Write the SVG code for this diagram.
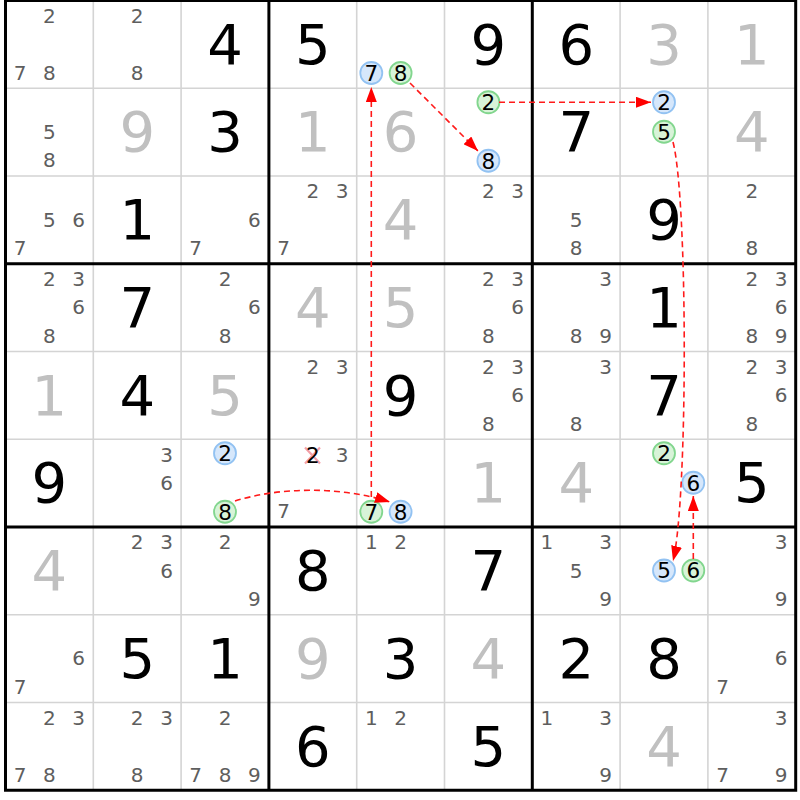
<svg xmlns="http://www.w3.org/2000/svg" width="800" height="800" viewBox="0 0 800 800">
<style>
text{font-family:"DejaVu Sans","Liberation Sans",sans-serif;text-anchor:middle}
.g{font-size:56px;fill:#000}
.s{font-size:56px;fill:#c0c0c0}
.c{font-size:20px;fill:#5e5e5e}
.k{font-size:21.5px;fill:#000}
.cb{fill:#d6e7fb;stroke:#92c2f2;stroke-width:1.8}
.cg{fill:#d8f3d8;stroke:#82d68e;stroke-width:1.8}
.thin{stroke:#d4d4d4;stroke-width:1.6;fill:none}
.thick{stroke:#000;stroke-width:3;fill:none}
.arr{stroke:#ff1a1a;stroke-width:1.6;stroke-dasharray:6,4;fill:none;marker-end:url(#ah)}
.x{stroke:#f4a0a8;stroke-width:2.2}
</style>
<defs>
<marker id="ah" markerUnits="userSpaceOnUse" markerWidth="15" markerHeight="11" viewBox="0 0 15 11" refX="15" refY="5.5" orient="auto">
<path d="M0,0 L15,5.5 L0,11 z" fill="#ff0000"/>
</marker>
</defs>
<rect width="800" height="800" fill="#fff"/>
<g id="grid">
<path class="thin" d="M93.3,0.5V790.25M181.1,0.5V790.25M356.7,0.5V790.25M444.5,0.5V790.25M620.1,0.5V790.25M707.9,0.5V790.25M5.5,88.25H795.7M5.5,176H795.7M5.5,351.5H795.7M5.5,439.25H795.7M5.5,614.75H795.7M5.5,702.5H795.7"/>
<path class="thick" d="M268.9,0.5V790.25M532.3,0.5V790.25M5.5,263.75H795.7M5.5,527H795.7"/>
<rect class="thick" x="5.5" y="0.5" width="790.2" height="789.75"/>
</g>
<g id="r0c0"><text class="c" x="49.4" y="22.8">2</text><text class="c" x="20.1" y="79.5">7</text><text class="c" x="49.4" y="79.5">8</text></g>
<g id="r0c1"><text class="c" x="137.2" y="22.8">2</text><text class="c" x="137.2" y="79.5">8</text></g>
<g id="r0c2"><text class="g" x="225" y="63.5">4</text></g>
<g id="r0c3"><text class="g" x="312.8" y="63.5">5</text></g>
<g id="r0c4"><circle class="cb" cx="371.3" cy="73" r="11"/><text class="k" x="371.3" y="80.8">7</text><circle class="cg" cx="400.6" cy="73" r="11"/><text class="k" x="400.6" y="80.8">8</text></g>
<g id="r0c5"><text class="g" x="488.4" y="63.5">9</text></g>
<g id="r0c6"><text class="g" x="576.2" y="63.5">6</text></g>
<g id="r0c7"><text class="s" x="664" y="63.5">3</text></g>
<g id="r0c8"><text class="s" x="751.8" y="63.5">1</text></g>
<g id="r1c0"><text class="c" x="49.4" y="138.95">5</text><text class="c" x="49.4" y="167.25">8</text></g>
<g id="r1c1"><text class="s" x="137.2" y="151.25">9</text></g>
<g id="r1c2"><text class="g" x="225" y="151.25">3</text></g>
<g id="r1c3"><text class="s" x="312.8" y="151.25">1</text></g>
<g id="r1c4"><text class="s" x="400.6" y="151.25">6</text></g>
<g id="r1c5"><circle class="cg" cx="488.4" cy="102.25" r="11"/><text class="k" x="488.4" y="110.05">2</text><circle class="cb" cx="488.4" cy="160.75" r="11"/><text class="k" x="488.4" y="168.55">8</text></g>
<g id="r1c6"><text class="g" x="576.2" y="151.25">7</text></g>
<g id="r1c7"><circle class="cb" cx="664" cy="102.25" r="11"/><text class="k" x="664" y="110.05">2</text><circle class="cg" cx="664" cy="131.75" r="11"/><text class="k" x="664" y="139.55">5</text></g>
<g id="r1c8"><text class="s" x="751.8" y="151.25">4</text></g>
<g id="r2c0"><text class="c" x="49.4" y="226.7">5</text><text class="c" x="78.7" y="226.7">6</text><text class="c" x="20.1" y="255">7</text></g>
<g id="r2c1"><text class="g" x="137.2" y="239">1</text></g>
<g id="r2c2"><text class="c" x="254.3" y="226.7">6</text><text class="c" x="195.7" y="255">7</text></g>
<g id="r2c3"><text class="c" x="312.8" y="198.3">2</text><text class="c" x="342.1" y="198.3">3</text><text class="c" x="283.5" y="255">7</text></g>
<g id="r2c4"><text class="s" x="400.6" y="239">4</text></g>
<g id="r2c5"><text class="c" x="488.4" y="198.3">2</text><text class="c" x="517.7" y="198.3">3</text></g>
<g id="r2c6"><text class="c" x="576.2" y="226.7">5</text><text class="c" x="576.2" y="255">8</text></g>
<g id="r2c7"><text class="g" x="664" y="239">9</text></g>
<g id="r2c8"><text class="c" x="751.8" y="198.3">2</text><text class="c" x="751.8" y="255">8</text></g>
<g id="r3c0"><text class="c" x="49.4" y="286.05">2</text><text class="c" x="78.7" y="286.05">3</text><text class="c" x="78.7" y="314.45">6</text><text class="c" x="49.4" y="342.75">8</text></g>
<g id="r3c1"><text class="g" x="137.2" y="326.75">7</text></g>
<g id="r3c2"><text class="c" x="225" y="286.05">2</text><text class="c" x="254.3" y="314.45">6</text><text class="c" x="225" y="342.75">8</text></g>
<g id="r3c3"><text class="s" x="312.8" y="326.75">4</text></g>
<g id="r3c4"><text class="s" x="400.6" y="326.75">5</text></g>
<g id="r3c5"><text class="c" x="488.4" y="286.05">2</text><text class="c" x="517.7" y="286.05">3</text><text class="c" x="517.7" y="314.45">6</text><text class="c" x="488.4" y="342.75">8</text></g>
<g id="r3c6"><text class="c" x="605.5" y="286.05">3</text><text class="c" x="576.2" y="342.75">8</text><text class="c" x="605.5" y="342.75">9</text></g>
<g id="r3c7"><text class="g" x="664" y="326.75">1</text></g>
<g id="r3c8"><text class="c" x="751.8" y="286.05">2</text><text class="c" x="781.1" y="286.05">3</text><text class="c" x="781.1" y="314.45">6</text><text class="c" x="751.8" y="342.75">8</text><text class="c" x="781.1" y="342.75">9</text></g>
<g id="r4c0"><text class="s" x="49.4" y="414.5">1</text></g>
<g id="r4c1"><text class="g" x="137.2" y="414.5">4</text></g>
<g id="r4c2"><text class="s" x="225" y="414.5">5</text></g>
<g id="r4c3"><text class="c" x="312.8" y="373.8">2</text><text class="c" x="342.1" y="373.8">3</text></g>
<g id="r4c4"><text class="g" x="400.6" y="414.5">9</text></g>
<g id="r4c5"><text class="c" x="488.4" y="373.8">2</text><text class="c" x="517.7" y="373.8">3</text><text class="c" x="517.7" y="402.2">6</text><text class="c" x="488.4" y="430.5">8</text></g>
<g id="r4c6"><text class="c" x="605.5" y="373.8">3</text><text class="c" x="576.2" y="430.5">8</text></g>
<g id="r4c7"><text class="g" x="664" y="414.5">7</text></g>
<g id="r4c8"><text class="c" x="751.8" y="373.8">2</text><text class="c" x="781.1" y="373.8">3</text><text class="c" x="781.1" y="402.2">6</text><text class="c" x="751.8" y="430.5">8</text></g>
<g id="r5c0"><text class="g" x="49.4" y="502.25">9</text></g>
<g id="r5c1"><text class="c" x="166.5" y="461.55">3</text><text class="c" x="166.5" y="489.95">6</text></g>
<g id="r5c2"><circle class="cb" cx="225" cy="453.25" r="11"/><text class="k" x="225" y="461.05">2</text><circle class="cg" cx="225" cy="511.75" r="11"/><text class="k" x="225" y="519.55">8</text></g>
<g id="r5c3"><path class="x" d="M305,447.5L320,463.5M320,447.5L305,463.5"/><text class="k" x="312.8" y="462.5">2</text><text class="c" x="342.1" y="461.55">3</text><text class="c" x="283.5" y="518.25">7</text></g>
<g id="r5c4"><circle class="cg" cx="371.3" cy="511.75" r="11"/><text class="k" x="371.3" y="519.55">7</text><circle class="cb" cx="400.6" cy="511.75" r="11"/><text class="k" x="400.6" y="519.55">8</text></g>
<g id="r5c5"><text class="s" x="488.4" y="502.25">1</text></g>
<g id="r5c6"><text class="s" x="576.2" y="502.25">4</text></g>
<g id="r5c7"><circle class="cg" cx="664" cy="453.25" r="11"/><text class="k" x="664" y="461.05">2</text><circle class="cb" cx="693.3" cy="482.75" r="11"/><text class="k" x="693.3" y="490.55">6</text></g>
<g id="r5c8"><text class="g" x="751.8" y="502.25">5</text></g>
<g id="r6c0"><text class="s" x="49.4" y="590">4</text></g>
<g id="r6c1"><text class="c" x="137.2" y="549.3">2</text><text class="c" x="166.5" y="549.3">3</text><text class="c" x="166.5" y="577.7">6</text></g>
<g id="r6c2"><text class="c" x="225" y="549.3">2</text><text class="c" x="254.3" y="606">9</text></g>
<g id="r6c3"><text class="g" x="312.8" y="590">8</text></g>
<g id="r6c4"><text class="c" x="371.3" y="549.3">1</text><text class="c" x="400.6" y="549.3">2</text></g>
<g id="r6c5"><text class="g" x="488.4" y="590">7</text></g>
<g id="r6c6"><text class="c" x="546.9" y="549.3">1</text><text class="c" x="605.5" y="549.3">3</text><text class="c" x="576.2" y="577.7">5</text><text class="c" x="605.5" y="606">9</text></g>
<g id="r6c7"><circle class="cb" cx="664" cy="570.5" r="11"/><text class="k" x="664" y="578.3">5</text><circle class="cg" cx="693.3" cy="570.5" r="11"/><text class="k" x="693.3" y="578.3">6</text></g>
<g id="r6c8"><text class="c" x="781.1" y="549.3">3</text><text class="c" x="781.1" y="606">9</text></g>
<g id="r7c0"><text class="c" x="78.7" y="665.45">6</text><text class="c" x="20.1" y="693.75">7</text></g>
<g id="r7c1"><text class="g" x="137.2" y="677.75">5</text></g>
<g id="r7c2"><text class="g" x="225" y="677.75">1</text></g>
<g id="r7c3"><text class="s" x="312.8" y="677.75">9</text></g>
<g id="r7c4"><text class="g" x="400.6" y="677.75">3</text></g>
<g id="r7c5"><text class="s" x="488.4" y="677.75">4</text></g>
<g id="r7c6"><text class="g" x="576.2" y="677.75">2</text></g>
<g id="r7c7"><text class="g" x="664" y="677.75">8</text></g>
<g id="r7c8"><text class="c" x="781.1" y="665.45">6</text><text class="c" x="722.5" y="693.75">7</text></g>
<g id="r8c0"><text class="c" x="49.4" y="724.8">2</text><text class="c" x="78.7" y="724.8">3</text><text class="c" x="20.1" y="781.5">7</text><text class="c" x="49.4" y="781.5">8</text></g>
<g id="r8c1"><text class="c" x="137.2" y="724.8">2</text><text class="c" x="166.5" y="724.8">3</text><text class="c" x="137.2" y="781.5">8</text></g>
<g id="r8c2"><text class="c" x="225" y="724.8">2</text><text class="c" x="195.7" y="781.5">7</text><text class="c" x="225" y="781.5">8</text><text class="c" x="254.3" y="781.5">9</text></g>
<g id="r8c3"><text class="g" x="312.8" y="765.5">6</text></g>
<g id="r8c4"><text class="c" x="371.3" y="724.8">1</text><text class="c" x="400.6" y="724.8">2</text></g>
<g id="r8c5"><text class="g" x="488.4" y="765.5">5</text></g>
<g id="r8c6"><text class="c" x="546.9" y="724.8">1</text><text class="c" x="605.5" y="724.8">3</text><text class="c" x="605.5" y="781.5">9</text></g>
<g id="r8c7"><text class="s" x="664" y="765.5">4</text></g>
<g id="r8c8"><text class="c" x="781.1" y="724.8">3</text><text class="c" x="722.5" y="781.5">7</text><text class="c" x="781.1" y="781.5">9</text></g>
<g id="connectors">
<path class="arr" d="M371.3,497 L371.3,87"/>
<path class="arr" d="M410,83 L478,151"/>
<path class="arr" d="M499,102.25 L651,102.25"/>
<path class="arr" d="M673,142 C688,200 688,500 673,561"/>
<path class="arr" d="M693.3,559 L693.3,496"/>
<path class="arr" d="M235,501 C280,487 340,486 390,502"/>
</g>
</svg>
